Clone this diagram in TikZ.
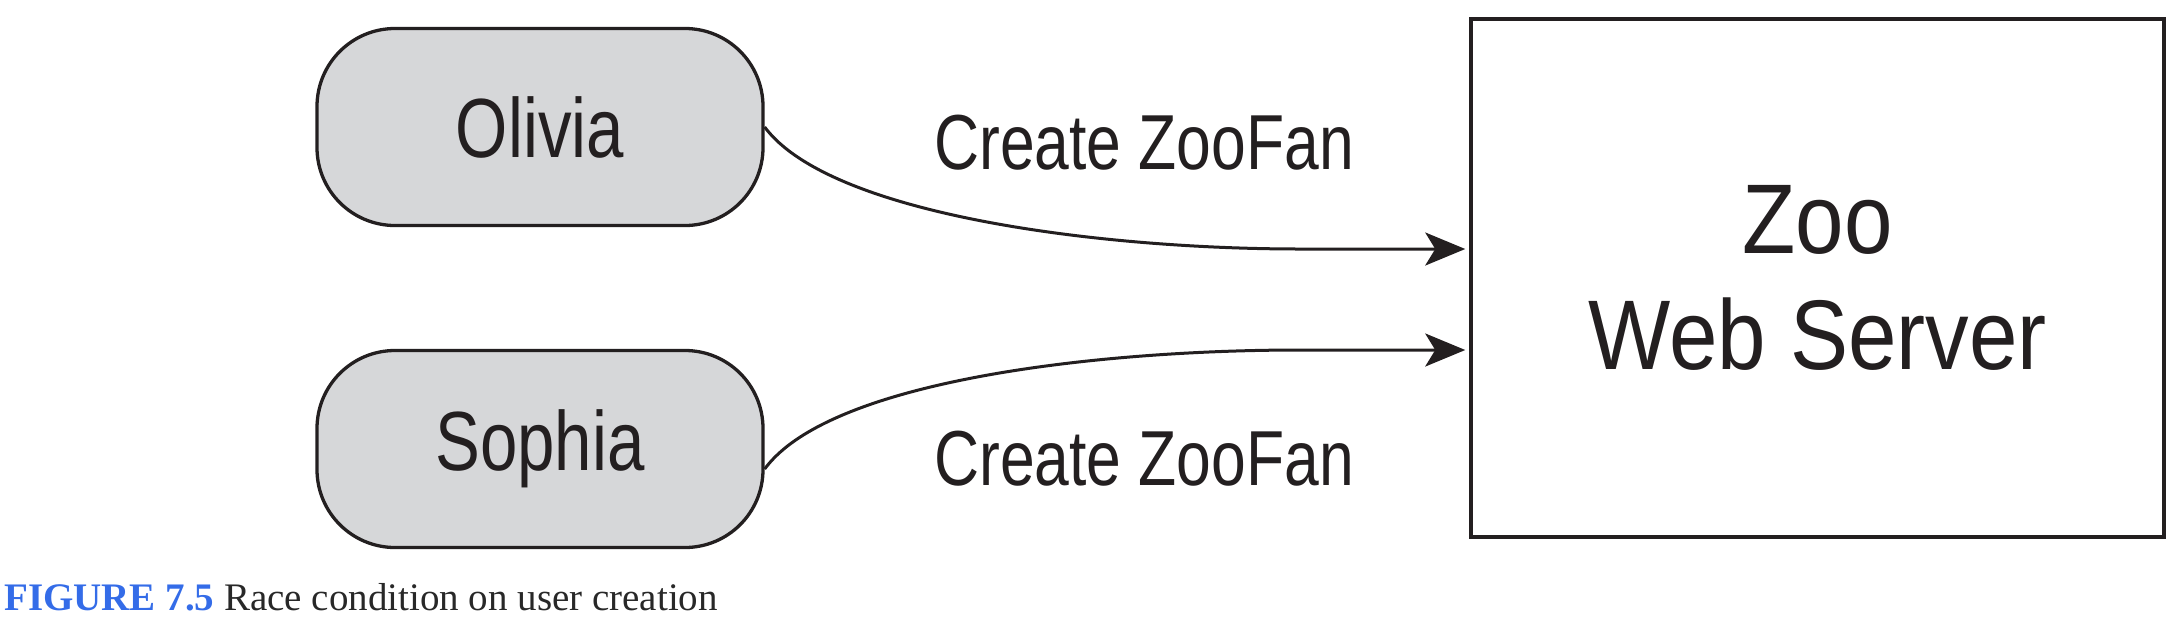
\documentclass[tikz,border=0pt]{standalone}
\usepackage{fontspec}
\setmainfont{Liberation Serif}
\newfontfamily\condsans[FakeStretch=0.8]{Liberation Sans}
\newfontfamily\widesans[FakeStretch=0.88]{Liberation Sans}
\usetikzlibrary{arrows.meta}
\definecolor{ink}{RGB}{35,31,32}
\definecolor{pillgray}{RGB}{214,215,217}
\definecolor{capblue}{RGB}{52,108,232}
\definecolor{captext}{RGB}{40,40,40}
\tikzset{
  pill/.style={draw=ink, fill=pillgray, line width=3.3pt, rounded corners=78pt,
    minimum width=446pt, minimum height=197pt, inner sep=0pt,
    font=\condsans\fontsize{84}{86}\selectfont, text=ink},
  serverbox/.style={draw=ink, line width=3.5pt, minimum width=693pt,
    minimum height=518pt, inner sep=0pt, align=center,
    font=\widesans\fontsize{99}{116}\selectfont, text=ink},
  msg/.style={font=\condsans\fontsize{78}{80}\selectfont, text=ink, inner sep=0pt},
  flow/.style={draw=ink, line width=3pt,
    -{Stealth[length=40pt, width=33pt, inset=10pt]}},
}
\begin{document}
\begin{tikzpicture}[x=1pt, y=-1pt]
\useasboundingbox (0,0) rectangle (2182,630);
\node[pill] (olivia) at (540,127) {Olivia};
\node[pill] (sophia) at (540,449) {Sophia};
\node[serverbox] (server) at (1817.5,278) {Zoo\\Web Server};
\coordinate (bend1) at (1300,249);
\coordinate (bend2) at (1300,350);
\draw[flow] (olivia.east) .. controls (830,215) and (1100,249) .. (bend1) -- ([xshift=-4pt]server.west |- bend1);
\draw[flow] ([yshift=-20pt]sophia.east) .. controls (830,380) and (1100,350) .. (bend2) -- ([xshift=-4pt]server.west |- bend2);
\node[msg] (m1) at (1144,143) {Create ZooFan};
\node[msg] (m2) at (1144,459) {Create ZooFan};
\node[anchor=base west, inner sep=0pt, font=\fontsize{39}{42}\selectfont, text=captext] (cap) at (4,610)
  {{\color{capblue}\bfseries FIGURE 7.5} Race condition on user creation};
\end{tikzpicture}
\end{document}
